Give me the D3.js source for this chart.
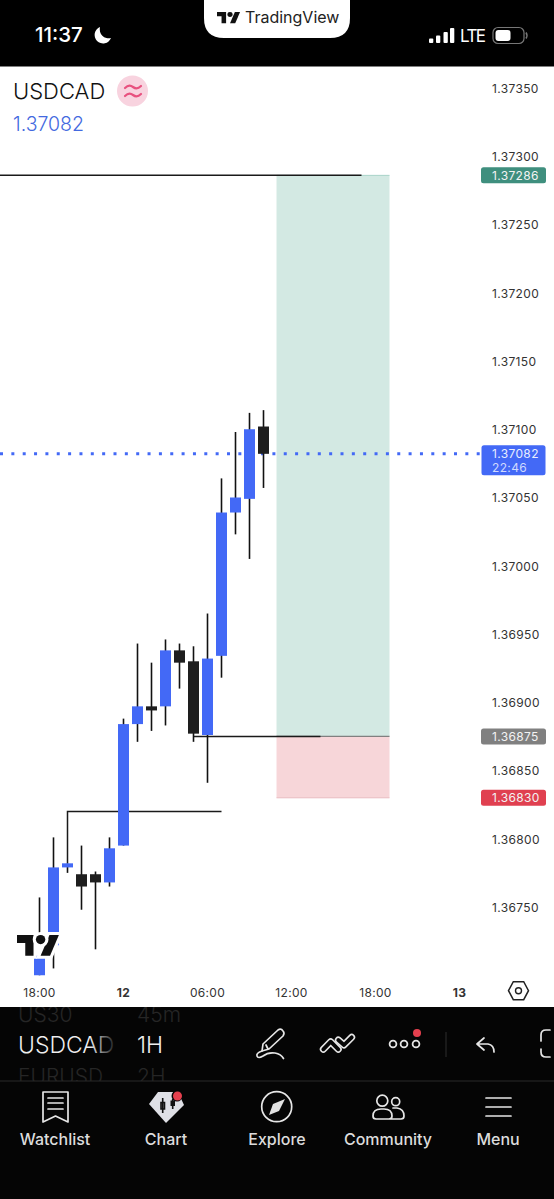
<!DOCTYPE html>
<html><head><meta charset="utf-8">
<script src="https://cdn.jsdelivr.net/npm/d3@7"></script>
<style>html,body{margin:0;padding:0;background:#fff}svg{display:block}text{font-family:Inter,"Noto Sans",Roboto,sans-serif}</style>
</head><body><div id="c"></div>
<script>
const symbolName = "USDCAD";
const lastPrice = 1.37082;
const countdown = "22:46";
const kinds  = ["up","up","up","down","down","up","up","up","down","up","down","down","up","up","up","up","down"];
const bodyTop = [1.36722,1.36779,1.36782,1.36774,1.36774,1.36793,1.36884,1.36897,1.36897,1.36938,1.36938,1.36930,1.36932,1.37039,1.37050,1.37100,1.37102];
const bodyBot = [1.36700,1.36722,1.36779,1.36765,1.36768,1.36768,1.36795,1.36884,1.36894,1.36897,1.36929,1.36877,1.36876,1.36934,1.37039,1.37049,1.37082];
const highs   = [1.36757,1.36801,1.36782,1.36795,1.36776,1.36801,1.36888,1.36943,1.36929,1.36946,1.36943,1.36941,1.36965,1.37064,1.37098,1.37112,1.37114];
const lows    = [1.36700,1.36705,1.36775,1.36748,1.36719,1.36765,1.36795,1.36871,1.36879,1.36883,1.36910,1.36871,1.36841,1.36918,1.37023,1.37005,1.37057];
const priceTicks = [1.37350,1.37300,1.37250,1.37200,1.37150,1.37100,1.37050,1.37000,1.36950,1.36900,1.36850,1.36800,1.36750];
const timeTicks = [0,6,12,18,24,30];
const timeLabels = ["18:00","12","06:00","12:00","18:00","13"];
const boldLabels = ["12","13"];
const targetPrice = 1.37286, entryPrice = 1.36875, stopPrice = 1.36830, pivotPrice = 1.36820;
const navLabels = ["Watchlist","Chart","Explore","Community","Menu"];

const W=554,H=1199;
const svg=d3.select("#c").append("svg").attr("width",W).attr("height",H).attr("viewBox",[0,0,W,H]);
const x=d3.scaleLinear().domain([0,30]).range([39.5,459.5]);
const y=d3.scaleLinear().domain([1.36750,1.37350]).range([907,88]);
const BLUE="#4369f6",DARK="#1e1e1e";
const defs=svg.append("defs");
const g=svg.append("g");

// risk / reward zones
const zoneL=x(16.93),zoneR=x(25);
g.append("rect").attr("x",zoneL).attr("width",zoneR-zoneL).attr("y",y(targetPrice)).attr("height",y(entryPrice)-y(targetPrice)).attr("fill","#d3e9e3");
g.append("rect").attr("x",zoneL).attr("width",zoneR-zoneL).attr("y",y(entryPrice)).attr("height",y(stopPrice)-y(entryPrice)).attr("fill","#f7d6d9");
g.append("line").attr("x1",zoneL).attr("x2",zoneR).attr("y1",y(stopPrice)).attr("y2",y(stopPrice)).attr("stroke","#e9bcc1").attr("stroke-width",1);
g.append("line").attr("x1",zoneL).attr("x2",zoneR).attr("y1",y(targetPrice)).attr("y2",y(targetPrice)).attr("stroke","#a9d3c8").attr("stroke-width",1);
g.append("line").attr("x1",zoneL).attr("x2",zoneR).attr("y1",y(entryPrice)).attr("y2",y(entryPrice)).attr("stroke","#808080").attr("stroke-width",1.4);

// drawn levels
const lv=g.append("g").attr("stroke","#1a1a1a").attr("stroke-width",1.5).attr("fill","none");
lv.append("line").attr("x1",0).attr("x2",x(23)).attr("y1",y(targetPrice)).attr("y2",y(targetPrice));
lv.append("line").attr("x1",x(11)).attr("x2",x(20.07)).attr("y1",y(entryPrice)).attr("y2",y(entryPrice));
lv.append("path").attr("d",d3.line()([[x(2),y(bodyTop[2])],[x(2),y(pivotPrice)],[x(13),y(pivotPrice)]]));

// dotted last price
g.append("line").attr("x1",0).attr("x2",481).attr("y1",y(lastPrice)).attr("y2",y(lastPrice))
  .attr("stroke",BLUE).attr("stroke-width",3).attr("stroke-dasharray","3 8.35");

// candles
const idx=d3.range(kinds.length);
const col=i=>kinds[i]==="up"?BLUE:DARK;
g.append("g").selectAll("line").data(idx).join("line")
  .attr("x1",i=>x(i)).attr("x2",i=>x(i)).attr("y1",i=>y(highs[i])).attr("y2",i=>y(lows[i]))
  .attr("stroke","#111").attr("stroke-width",1.6);
g.append("g").selectAll("rect").data(idx).join("rect")
  .attr("x",i=>x(i)-5.5).attr("width",11)
  .attr("y",i=>y(bodyTop[i])).attr("height",i=>Math.max(2.5,y(bodyBot[i])-y(bodyTop[i])))
  .attr("fill",col);

// chart watermark
function tvLogo(sel,fill,halo){
  if(halo)sel.append("rect").attr("x",7).attr("y",0).attr("width",20).attr("height",18).attr("fill","#fff");
  const parts=[["path","M14 18H7V7H0V0h14z"],["path","M28 18h-8L27.5 0h8z"],["circle"]];
  parts.forEach(p=>{
    const e=sel.append(p[0]).attr("fill",fill);
    if(p[0]==="path")e.attr("d",p[1]);else e.attr("cx",20).attr("cy",4).attr("r",4);
    if(halo)e.attr("stroke","#fff").attr("stroke-width",halo).attr("paint-order","stroke");
  });
}
tvLogo(svg.append("g").attr("transform","translate(17,935) scale(1.18,1.15)"),"#111",5.4);

// price axis
const yAxis=d3.axisRight(y).tickValues(priceTicks).tickFormat(d3.format(".5f")).tickSize(0).tickPadding(0);
const ya=svg.append("g").attr("transform","translate(492,0.5)").call(yAxis);
ya.select(".domain").remove();
ya.selectAll("text").attr("font-size",12).attr("fill","#333").attr("letter-spacing",".35").style("font-family","Inter,sans-serif");

function tag(p,fill,label,h){
  const py=y(p);
  svg.append("rect").attr("x",481).attr("y",py-h/2).attr("width",65).attr("height",h).attr("rx",2.5).attr("fill",fill);
  svg.append("text").attr("x",492).attr("y",py).attr("dy","0.36em").attr("font-size",12).attr("letter-spacing",".35").attr("fill","#f3f3f3").text(label);
}
const f5=d3.format(".5f");
tag(targetPrice,"#3f8f7e",f5(targetPrice),16);
tag(entryPrice,"#808080",f5(entryPrice),16);
tag(stopPrice,"#e04050",f5(stopPrice),16);
const lp=y(lastPrice);
svg.append("rect").attr("x",481.5).attr("y",lp-8.5).attr("width",64).attr("height",30).attr("rx",2.5).attr("fill",BLUE);
svg.append("text").attr("x",492).attr("y",lp).attr("font-size",12).attr("letter-spacing",".35").attr("fill","#e8edff").attr("dy","0.36em").text(f5(lastPrice));
svg.append("text").attr("x",492).attr("y",lp+13.5).attr("font-size",12).attr("letter-spacing",".35").attr("fill","#cfd9fe").attr("dy","0.36em").text(countdown);

// time axis
const xAxis=d3.axisBottom(x).tickValues(timeTicks).tickFormat((d,i)=>timeLabels[i]).tickSize(0).tickPadding(0);
const xa=svg.append("g").attr("transform","translate(-0.5,988.5)").call(xAxis);
xa.select(".domain").remove();
xa.selectAll("text").attr("font-size",12).attr("fill","#333").attr("letter-spacing",".3")
  .attr("font-weight",d=>boldLabels.includes(timeLabels[timeTicks.indexOf(d)])?700:400).style("font-family","Inter,sans-serif");
svg.append("path").attr("d",d3.line()([[508.5,990.7],[513.3,981.7],[523.7,981.7],[528.5,990.7],[523.7,999.7],[513.3,999.7]])+"Z").attr("fill","none").attr("stroke","#222").attr("stroke-width",1.5);
svg.append("circle").attr("cx",518.5).attr("cy",990.7).attr("r",3).attr("fill","none").attr("stroke","#222").attr("stroke-width",1.4);

// header
svg.append("text").attr("x",13).attr("y",91).attr("dy","0.36em").attr("font-size",22).attr("font-weight",300).attr("fill","#111").text(symbolName);
svg.append("circle").attr("cx",132.5).attr("cy",91).attr("r",15.5).attr("fill","#f8d3df");
svg.append("path").attr("d","M125 88Q129 84 133 87Q137 90 141 86M125 96Q129 92 133 95Q137 98 141 94").attr("fill","none").attr("stroke","#e8517f").attr("stroke-width",2.2).attr("stroke-linecap","round");
svg.append("text").attr("x",13).attr("y",124).attr("dy","0.36em").attr("font-size",19.5).attr("font-weight",300).attr("fill","#4369e0").text(f5(lastPrice));

// status bar
svg.append("rect").attr("width",W).attr("height",66.5).attr("fill","#000");
svg.append("path").attr("d","M204 0H350V18Q350 38 330 38H224Q204 38 204 18Z").attr("fill","#fff");
tvLogo(svg.append("g").attr("transform","translate(217,12) scale(.65,.62)"),"#111",0);
svg.append("text").attr("x",245).attr("y",17.5).attr("dy","0.36em").attr("font-size",16).attr("fill","#222").text("TradingView");
svg.append("text").attr("x",35).attr("y",35).attr("dy","0.36em").attr("font-size",20.5).attr("font-weight",500).attr("fill","#fff").text("11:37");
svg.append("path").attr("d","M100 27A8.5 8.5 0 1 0 111 38A9 9 0 0 1 100 27Z").attr("fill","#fff");
[[429,4.5],[436,7.5],[443.5,11],[450,15]].forEach(b=>svg.append("rect").attr("x",b[0]).attr("y",43-b[1]).attr("width",4.3).attr("height",b[1]).attr("rx",1).attr("fill","#fff"));
svg.append("text").attr("x",460).attr("y",35.5).attr("dy","0.36em").attr("font-size",17).attr("fill","#fff").attr("textLength",26).text("LTE");
svg.append("rect").attr("x",493).attr("y",27.5).attr("width",31).attr("height",16).attr("rx",5).attr("fill","none").attr("stroke","#777").attr("stroke-width",1.2);
svg.append("rect").attr("x",495.5).attr("y",30).attr("width",15).attr("height",11).attr("rx",3).attr("fill","#fff");
svg.append("path").attr("d","M526 32.5Q528 35.5 526 38.5").attr("stroke","#777").attr("fill","none").attr("stroke-width",1.5);

// bottom panel
svg.append("rect").attr("y",1007).attr("width",W).attr("height",H-1007).attr("fill","#050505");
svg.append("line").attr("x1",0).attr("x2",W).attr("y1",1081).attr("y2",1081).attr("stroke","#2b2b2b");
const fade=defs.append("linearGradient").attr("id","fade").attr("gradientUnits","userSpaceOnUse").attr("x1",90).attr("x2",114).attr("y1",0).attr("y2",0);
fade.append("stop").attr("offset",0).attr("stop-color","#eee");
fade.append("stop").attr("offset",1).attr("stop-color","#222");
defs.append("clipPath").attr("id","roll").append("rect").attr("y",1007).attr("width",W).attr("height",74);
const roll=svg.append("g").attr("clip-path","url(#roll)");
const rt=(xx,yy,t,fs,fill)=>roll.append("text").attr("x",xx).attr("y",yy).attr("dy","0.36em").attr("font-size",fs).attr("font-weight",300).attr("fill",fill).text(t);
rt(18,1014,"US30",21,"#262626");rt(137,1014,"45m",21,"#262626");
rt(18,1045,"USDCAD",23,"url(#fade)");rt(137,1045,"1H",23,"#eee");
rt(18,1076,"EURUSD",21,"#262626");rt(137,1076,"2H",21,"#262626");

// toolbar icons
const ic=svg.append("g").attr("fill","none").attr("stroke","#e6e6e6").attr("stroke-width",1.7).attr("stroke-linecap","round").attr("stroke-linejoin","round");
ic.append("path").attr("d","M263 1044L278 1030Q281 1028 283 1031Q285 1033 283 1036L269 1049L262 1051ZM266 1045L268 1049");
ic.append("path").attr("d","M262 1051Q256 1053 257 1056Q258 1059 263 1056Q268 1052 275 1053Q281 1054 283.5 1058.5");
[[[323.3,1049.3],[330.7,1041.7],[338.3,1049.3]],[[338.3,1040],[344,1045],[351.7,1037.3]]].forEach(pts=>{
  const d=d3.line()(pts);
  ic.append("path").attr("d",d).attr("stroke","#e6e6e6").attr("stroke-width",7);
  ic.append("path").attr("d",d).attr("stroke","#050505").attr("stroke-width",3.8);
});
[394,405,417].forEach(c=>ic.append("circle").attr("cx",c-1).attr("cy",1044).attr("r",3.4).attr("stroke-width",1.8));
svg.append("circle").attr("cx",417).attr("cy",1033).attr("r",4).attr("fill","#e5404e");
svg.append("line").attr("x1",446).attr("x2",446).attr("y1",1032).attr("y2",1057).attr("stroke","#2e2e2e");
ic.append("path").attr("d","M484 1038L477 1044L484 1050M477 1044H488Q494 1045 494 1052");
ic.append("path").attr("d","M550 1030H546Q541 1030 541 1035V1041M541 1049V1052Q541 1057 546 1057H550");

// nav icons
ic.append("path").attr("d","M43 1092H68V1122L55.5 1116L43 1122Z");
ic.append("path").attr("d","M48 1098H63M48 1103H63M48 1109H63");
svg.append("path").attr("d","M158 1092H178L184 1105L166 1123L149 1104Z").attr("fill","#dfe0e6");
svg.append("path").attr("d","M162.7 1098V1113M161 1102.5H164.5V1109H161Z").attr("stroke","#111").attr("fill","none").attr("stroke-width",1.6);
svg.append("path").attr("d","M172.7 1099V1109").attr("stroke","#111").attr("stroke-width",1.6);
svg.append("rect").attr("x",170.5).attr("y",1100.5).attr("width",4.5).attr("height",5.5).attr("fill","#111");
svg.append("circle").attr("cx",177).attr("cy",1096).attr("r",5.5).attr("fill","#050505");
svg.append("circle").attr("cx",177.5).attr("cy",1096).attr("r",4.5).attr("fill","#e5404e");
ic.append("circle").attr("cx",276.7).attr("cy",1106.7).attr("r",15);
svg.append("path").attr("d","M285 1099L279 1111L269 1115L273 1104Z").attr("fill","#e2e2e2");
ic.append("circle").attr("cx",382.3).attr("cy",1100.7).attr("r",5.5);
ic.append("circle").attr("cx",395.7).attr("cy",1101.7).attr("r",4);
ic.append("path").attr("d","M373 1116Q373 1109 381 1109H384Q392 1109 392 1116Q392 1119 389 1119H376Q373 1119 373 1116ZM393 1108H397Q404 1109 404 1116Q404 1119 401 1119H391");
ic.append("path").attr("d","M486 1098H511M486 1107H511M486 1116H511");

svg.append("g").selectAll("text").data(navLabels).join("text")
  .attr("x",(d,i)=>[55,166,277,388,498][i]).attr("y",1139).attr("dy","0.36em").attr("text-anchor","middle")
  .attr("font-size",16).attr("font-weight",500).attr("fill","#dcdcdc").text(d=>d);
</script></body></html>
